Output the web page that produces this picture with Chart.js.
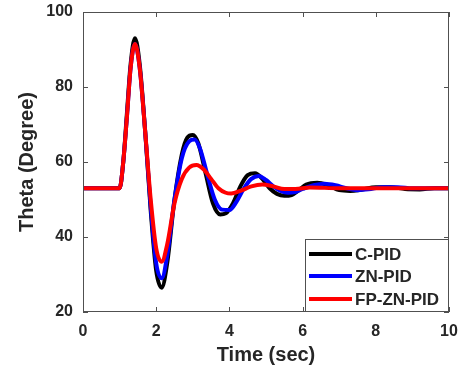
<!DOCTYPE html>
<html>
<head>
<meta charset="utf-8">
<script src="https://cdn.jsdelivr.net/npm/chart.js@4/dist/chart.umd.min.js"></script>
<style>
  html, body { margin: 0; padding: 0; background: #fff; }
  #wrap { width: 463px; height: 370px; }
</style>
</head>
<body>
<div id="wrap"><canvas id="chart" width="463" height="370"></canvas></div>
<script>
// time samples (sec) and theta values (degree)
const cTime = [0, 1.0, 1.1, 1.2, 1.3, 1.42, 1.55, 1.7, 1.85, 2.0, 2.15, 2.3, 2.5, 2.7, 2.85, 3.0, 3.15, 3.35, 3.55, 3.75, 3.9, 4.1, 4.3, 4.5, 4.7, 4.9, 5.1, 5.3, 5.5, 5.7, 5.9, 6.1, 6.4, 6.7, 7.0, 7.3, 7.6, 8.0, 8.4, 8.8, 9.2, 9.6, 10];
const cTheta = [53, 53, 60, 73, 86, 93, 86, 68, 47, 31, 26.5, 33, 50, 62, 66.5, 67.2, 65, 57, 49, 46, 46.3, 49, 53.5, 56.5, 57, 55.5, 53, 51.5, 51, 51.2, 52.5, 54, 54.5, 53.8, 52.5, 52.3, 52.6, 53.3, 53.3, 52.8, 52.7, 53, 53];

const znTime = [0, 1.0, 1.1, 1.2, 1.3, 1.42, 1.55, 1.7, 1.85, 2.0, 2.15, 2.3, 2.5, 2.7, 2.9, 3.05, 3.2, 3.4, 3.6, 3.8, 4.0, 4.2, 4.4, 4.6, 4.8, 5.0, 5.2, 5.4, 5.6, 5.8, 6.0, 6.3, 6.6, 6.9, 7.2, 7.5, 7.8, 8.2, 8.6, 9.0, 10];
const znTheta = [53, 53, 60, 72, 85, 91.5, 85, 68, 48, 33, 29, 35, 50, 61, 65.5, 66, 63.5, 56.5, 50, 47.3, 47.2, 49.5, 53, 55.5, 56.3, 55.2, 53.5, 52.3, 51.8, 52, 52.8, 53.8, 54.2, 53.8, 53, 52.5, 52.7, 53.3, 53.3, 53, 53];

const fpTime = [0, 1.0, 1.1, 1.2, 1.3, 1.42, 1.55, 1.7, 1.85, 2.0, 2.15, 2.3, 2.5, 2.7, 2.9, 3.1, 3.3, 3.5, 3.7, 3.9, 4.05, 4.3, 4.6, 4.9, 5.2, 5.5, 5.8, 6.2, 7.0, 10];
const fpTheta = [53, 53, 60, 72, 85, 91.5, 85, 68, 50, 37, 33.4, 38, 49, 55.5, 58.5, 59.2, 58, 55.5, 53, 51.8, 51.6, 52.3, 53.5, 54, 53.5, 52.8, 52.8, 53.2, 53, 53];

const seriesNames = ['C-PID', 'ZN-PID', 'FP-ZN-PID'];
const seriesColors = ['#000000', '#0000ff', '#ff0000'];
const xTicks = [0, 2, 4, 6, 8, 10];
const yTicks = [20, 40, 60, 80, 100];

const toPoints = (xs, ys) => xs.map((x, i) => ({ x: x, y: ys[i] }));

const textColor = '#262626';
const boxColor = '#505050';

// MATLAB style box, inward ticks and legend inside the axes
const matlabFrame = {
  id: 'matlabFrame',
  afterDraw(chart) {
    const ctx = chart.ctx;
    const a = chart.chartArea;
    const xs = chart.scales.x;
    const ys = chart.scales.y;
    ctx.save();
    ctx.strokeStyle = boxColor;
    ctx.lineWidth = 1;
    ctx.strokeRect(a.left + 0.5, a.top + 0.5, a.right - a.left - 1, a.bottom - a.top - 1);
    ctx.beginPath();
    xTicks.forEach(v => {
      const px = Math.round(xs.getPixelForValue(v)) + 0.5;
      ctx.moveTo(px, a.bottom); ctx.lineTo(px, a.bottom - 5);
      ctx.moveTo(px, a.top); ctx.lineTo(px, a.top + 5);
    });
    yTicks.forEach(v => {
      const py = Math.round(ys.getPixelForValue(v)) + 0.5;
      ctx.moveTo(a.left, py); ctx.lineTo(a.left + 5, py);
      ctx.moveTo(a.right, py); ctx.lineTo(a.right - 5, py);
    });
    ctx.stroke();

    // legend
    const lx = 305, ly = 239, lw = a.right - lx, lh = a.bottom - ly;
    ctx.fillStyle = '#fff';
    ctx.fillRect(lx, ly, lw, lh);
    ctx.strokeRect(lx + 0.5, ly + 0.5, lw - 1, lh - 1);
    const rows = [254, 276, 299];
    ctx.font = 'bold 17px "Liberation Sans", Arial, sans-serif';
    ctx.textBaseline = 'middle';
    seriesNames.forEach((name, i) => {
      ctx.strokeStyle = seriesColors[i];
      ctx.lineWidth = 4;
      ctx.beginPath();
      ctx.moveTo(309, rows[i]);
      ctx.lineTo(352, rows[i]);
      ctx.stroke();
      ctx.fillStyle = textColor;
      ctx.fillText(name, 355, rows[i] + 1);
    });
    ctx.restore();
  }
};

const chart = new Chart(document.getElementById('chart'), {
  type: 'line',
  data: {
    datasets: [
      { label: seriesNames[0], data: toPoints(cTime, cTheta), borderColor: seriesColors[0], order: 3 },
      { label: seriesNames[1], data: toPoints(znTime, znTheta), borderColor: seriesColors[1], order: 2 },
      { label: seriesNames[2], data: toPoints(fpTime, fpTheta), borderColor: seriesColors[2], order: 1 },
    ],
  },
  options: {
    responsive: false,
    animation: false,
    layout: { padding: { left: 0, top: 12, right: 14, bottom: 0 } },
    elements: {
      line: { borderWidth: 4, cubicInterpolationMode: 'monotone', fill: false },
      point: { radius: 0 },
    },
    plugins: {
      legend: { display: false },
      tooltip: { enabled: false },
    },
    scales: {
      x: {
        type: 'linear',
        min: 0,
        max: 10,
        afterBuildTicks: (scale) => { scale.ticks = xTicks.map(v => ({ value: v })); },
        afterFit: (scale) => { scale.height = 58; scale.paddingLeft = 0; scale.paddingRight = 0; },
        grid: { display: false, drawTicks: false },
        border: { display: false },
        ticks: {
          padding: 10,
          color: textColor,
          font: { family: '"Liberation Sans", Arial, sans-serif', size: 16, weight: 'bold' },
        },
        title: {
          display: true,
          text: 'Time (sec)',
          color: textColor,
          padding: { top: 0, bottom: 3 },
          font: { family: '"Liberation Sans", Arial, sans-serif', size: 20, weight: 'bold' },
        },
      },
      y: {
        min: 20,
        max: 100,
        afterBuildTicks: (scale) => { scale.ticks = yTicks.map(v => ({ value: v })); },
        afterFit: (scale) => { scale.width = 83; scale.paddingTop = 0; scale.paddingBottom = 0; },
        grid: { display: false, drawTicks: false },
        border: { display: false },
        ticks: {
          padding: 10,
          color: textColor,
          font: { family: '"Liberation Sans", Arial, sans-serif', size: 16, weight: 'bold' },
        },
        title: {
          display: true,
          text: 'Theta (Degree)',
          color: textColor,
          padding: { top: 15, bottom: 0 },
          font: { family: '"Liberation Sans", Arial, sans-serif', size: 20, weight: 'bold' },
        },
      },
    },
  },
  plugins: [matlabFrame],
});
</script>
</body>
</html>
